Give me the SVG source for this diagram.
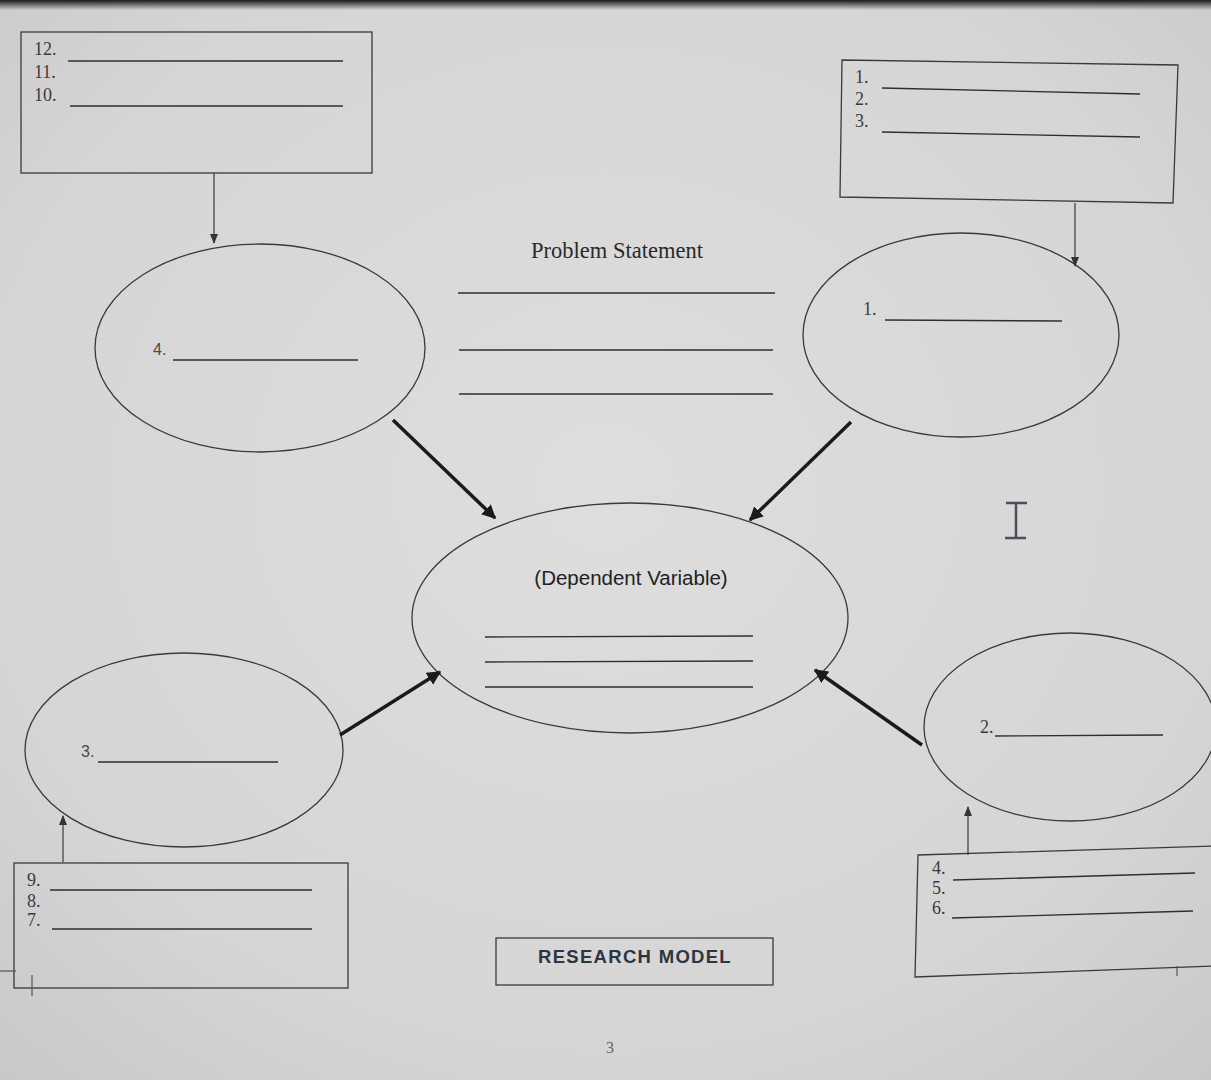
<svg xmlns="http://www.w3.org/2000/svg" width="1211" height="1080" viewBox="0 0 1211 1080">
<defs>
<radialGradient id="bg" cx="0.5" cy="0.45" r="0.75">
<stop offset="0" stop-color="#dedede"/>
<stop offset="0.7" stop-color="#d5d5d5"/>
<stop offset="1" stop-color="#c8c8c8"/>
</radialGradient>
<linearGradient id="topband" x1="0" y1="0" x2="0" y2="1">
<stop offset="0" stop-color="#1a1a1a"/>
<stop offset="1" stop-color="#1a1a1a" stop-opacity="0"/>
</linearGradient>
<marker id="thin" viewBox="0 0 10 10" refX="9" refY="5" markerWidth="10" markerHeight="10" markerUnits="userSpaceOnUse" orient="auto">
<path d="M0,1 L10,5 L0,9 Z" fill="#333"/>
</marker>
<marker id="thick" viewBox="0 0 10 10" refX="9" refY="5" markerWidth="4" markerHeight="4" orient="auto">
<path d="M0,0 L10,5 L0,10 Z" fill="#1a1a1a"/>
</marker>
</defs>
<style>
.box{fill:none;stroke:#3a3a3a;stroke-width:1.3}
.ell{fill:none;stroke:#3a3a3a;stroke-width:1.3}
.ln{stroke:#2e2e2e;stroke-width:1.4}
.num{font-family:"Liberation Serif",serif;font-size:18px;fill:#3a3a3a}
.num2{font-family:"Liberation Sans",sans-serif;font-size:16px;fill:#4a4a4a}
.thin{stroke:#3a3a3a;stroke-width:1.2;fill:none;marker-end:url(#thin)}
.thick{stroke:#1a1a1a;stroke-width:3.5;fill:none;marker-end:url(#thick)}
</style>
<rect width="1211" height="1080" fill="url(#bg)"/>
<rect width="1211" height="10" fill="url(#topband)"/>

<g id="box-top-left">
<rect class="box" x="21" y="32" width="351" height="141"/>
<text class="num" x="34" y="55">12.</text>
<text class="num" x="34" y="78">11.</text>
<text class="num" x="34" y="101">10.</text>
<line class="ln" x1="68" y1="61" x2="343" y2="61"/>
<line class="ln" x1="70" y1="106" x2="343" y2="106"/>
</g>

<g id="box-top-right">
<polygon class="box" points="842,60 1178,65 1173,203 840,197"/>
<text class="num" x="855" y="83">1.</text>
<text class="num" x="855" y="105">2.</text>
<text class="num" x="855" y="127">3.</text>
<line class="ln" x1="882" y1="88" x2="1140" y2="94"/>
<line class="ln" x1="882" y1="132" x2="1140" y2="137"/>
</g>

<g id="ellipse-4">
<ellipse class="ell" cx="260" cy="348" rx="165" ry="104"/>
<text class="num2" x="153" y="355">4.</text>
<line class="ln" x1="173" y1="360" x2="358" y2="360"/>
</g>

<g id="ellipse-1">
<ellipse class="ell" cx="961" cy="335" rx="158" ry="102"/>
<text class="num" x="863" y="315">1.</text>
<line class="ln" x1="885" y1="320" x2="1062" y2="321"/>
</g>

<g id="problem-statement">
<text x="617" y="258" text-anchor="middle" font-family="Liberation Serif, serif" font-size="22.5" fill="#2a2a2a">Problem Statement</text>
<line class="ln" x1="458" y1="293" x2="775" y2="293"/>
<line class="ln" x1="459" y1="350" x2="773" y2="350"/>
<line class="ln" x1="459" y1="394" x2="773" y2="394"/>
</g>

<g id="dependent-variable">
<ellipse class="ell" cx="630" cy="618" rx="218" ry="115"/>
<text x="631" y="585" text-anchor="middle" font-family="Liberation Sans, sans-serif" font-size="20.5" fill="#222">(Dependent Variable)</text>
<line class="ln" x1="485" y1="637" x2="753" y2="636"/>
<line class="ln" x1="485" y1="662" x2="753" y2="661"/>
<line class="ln" x1="485" y1="687" x2="753" y2="687"/>
</g>

<g id="ellipse-3">
<ellipse class="ell" cx="184" cy="750" rx="159" ry="97"/>
<text class="num2" x="81" y="757">3.</text>
<line class="ln" x1="98" y1="762" x2="278" y2="762"/>
</g>

<g id="ellipse-2">
<ellipse class="ell" cx="1070" cy="727" rx="146" ry="94"/>
<text class="num" x="980" y="733" fill="#555">2.</text>
<line class="ln" x1="995" y1="736" x2="1163" y2="735"/>
</g>

<g id="box-bottom-left">
<rect class="box" x="14" y="863" width="334" height="125"/>
<text class="num" x="27" y="886">9.</text>
<text class="num" x="27" y="907">8.</text>
<text class="num" x="27" y="926">7.</text>
<line class="ln" x1="50" y1="890" x2="312" y2="890"/>
<line class="ln" x1="52" y1="929" x2="312" y2="929"/>
</g>

<g id="box-bottom-right">
<polygon class="box" points="918,855 1215,846 1215,966 915,977"/>
<text class="num" x="932" y="874" font-size="13" fill="#555">4.</text>
<text class="num" x="932" y="894" font-size="13" fill="#555">5.</text>
<text class="num" x="932" y="914" font-size="13" fill="#555">6.</text>
<line class="ln" x1="953" y1="880" x2="1195" y2="873"/>
<line class="ln" x1="952" y1="918" x2="1193" y2="911"/>
</g>

<g id="title">
<rect class="box" x="496" y="938" width="277" height="47"/>
<text x="635" y="963" text-anchor="middle" font-family="Liberation Sans, sans-serif" font-size="18.5" font-weight="bold" letter-spacing="1.3" fill="#2e3440">RESEARCH MODEL</text>
</g>

<g id="page-number">
<text x="606" y="1053" font-family="Liberation Serif, serif" font-size="16" fill="#666">3</text>
</g>

<g id="connectors">
<line class="thin" x1="214" y1="173" x2="214" y2="243"/>
<line class="thin" x1="1075" y1="203" x2="1075" y2="266"/>
<line class="thin" x1="63" y1="862" x2="63" y2="816"/>
<line class="thin" x1="968" y1="855" x2="968" y2="807"/>
<line class="thick" x1="393" y1="420" x2="495" y2="518"/>
<line class="thick" x1="851" y1="422" x2="750" y2="520"/>
<line class="thick" x1="340" y1="735" x2="440" y2="672"/>
<line class="thick" x1="922" y1="745" x2="815" y2="670"/>
</g>

<g id="cursor" stroke="#4a4f58" stroke-width="2.5" fill="none">
<line x1="1006" y1="503" x2="1027" y2="503"/>
<line x1="1016" y1="503" x2="1016" y2="538"/>
<line x1="1005" y1="538" x2="1026" y2="538"/>
</g>

<g id="screen-marks" stroke="#555" stroke-width="1.2">
<line x1="0" y1="971" x2="16" y2="971"/>
<line x1="32" y1="975" x2="32" y2="996"/>
<line x1="1177" y1="966" x2="1177" y2="976"/>
</g>
</svg>
